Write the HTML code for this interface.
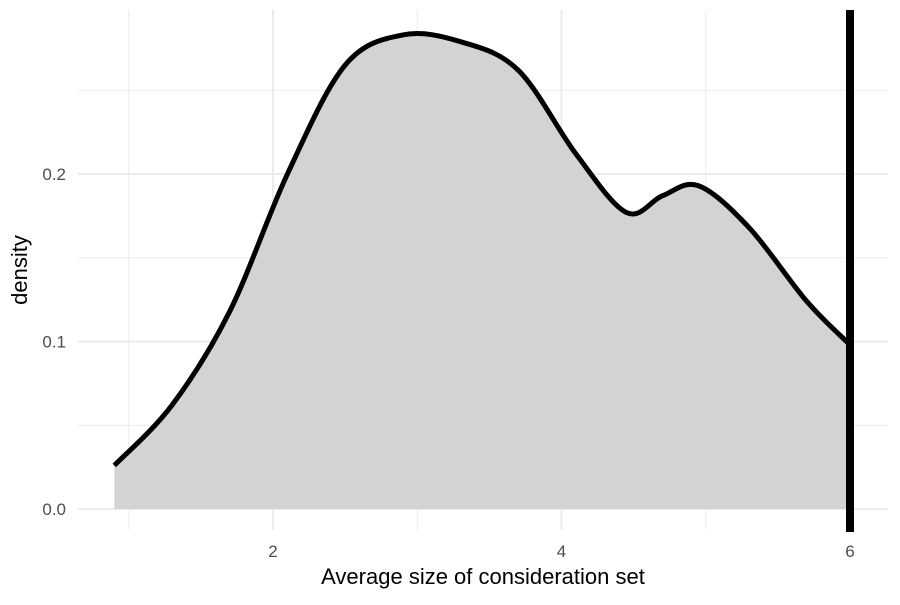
<!DOCTYPE html>
<html><head><meta charset="utf-8"><style>
body{margin:0;background:#fff}
svg{font-family:"Liberation Sans",Arial,sans-serif}
</style></head><body>
<svg id="chart" width="900" height="600" viewBox="0 0 900 600" xmlns="http://www.w3.org/2000/svg">
<rect width="900" height="600" fill="#fff"/>
<g id="grid"></g>
<g id="marks"></g>
<g id="axes"></g>
<text x="483" y="584" text-anchor="middle" font-size="22" fill="#000">Average size of consideration set</text>
<text transform="translate(27,270) rotate(-90)" text-anchor="middle" font-size="22" fill="#000">density</text>
</svg>
<script>
const xs = [0.9,1.3,1.7,2.1,2.5,2.9,3.3,3.7,4.1,4.45,4.7,4.95,5.3,5.7,6.0];
const ys = [0.026,0.062,0.118,0.200,0.265,0.283,0.279,0.262,0.212,0.177,0.187,0.193,0.168,0.124,0.098];
const xTicks = [2,4,6];
const xMinor = [1,3,5];
const yTicks = [0,0.1,0.2];
const yMinor = [0.05,0.15,0.25];
const vline = [6];
const X = v => 273 + (v-2)*144.25;
const Y = v => 509 - v*1675;
const L=78,R=888,T=10,B=530;
const ns="http://www.w3.org/2000/svg";
function mk(tag,attrs,parent){const e=document.createElementNS(ns,tag);for(const k in attrs)e.setAttribute(k,attrs[k]);parent.appendChild(e);return e;}
const grid=document.getElementById('grid'),marks=document.getElementById('marks'),axes=document.getElementById('axes');
yMinor.forEach(v=>{const e=mk('line',{x1:L,x2:R,y1:Y(v),y2:Y(v),stroke:'#ebebeb','stroke-width':1},grid);

});
xMinor.forEach(v=>{const e=mk('line',{x1:X(v),x2:X(v),y1:T,y2:B,stroke:'#ebebeb','stroke-width':1},grid);

});
yTicks.forEach(v=>{const e=mk('line',{x1:L,x2:R,y1:Y(v),y2:Y(v),stroke:'#ebebeb','stroke-width':2},grid);


const t=mk('text',{x:66,y:Y(v)+6,'text-anchor':'end','font-size':17,fill:'#4d4d4d'},axes);t.textContent=v.toFixed(1);

});
xTicks.forEach(v=>{const e=mk('line',{x1:X(v),x2:X(v),y1:T,y2:B,stroke:'#ebebeb','stroke-width':2},grid);


const t=mk('text',{x:X(v),y:557,'text-anchor':'middle','font-size':17,fill:'#4d4d4d'},axes);t.textContent=v;

});
const pts=xs.map((x,i)=>[X(x),Y(ys[i])]);
let d='M'+pts[0][0]+','+pts[0][1];
for(let i=0;i<pts.length-1;i++){const p0=pts[Math.max(0,i-1)],p1=pts[i],p2=pts[i+1],p3=pts[Math.min(pts.length-1,i+2)];
d+=` C${p1[0]+(p2[0]-p0[0])/6},${p1[1]+(p2[1]-p0[1])/6} ${p2[0]-(p3[0]-p1[0])/6},${p2[1]-(p3[1]-p1[1])/6} ${p2[0]},${p2[1]}`;}
const area=mk('path',{d:d+` L${pts[pts.length-1][0]},${Y(0)} L${pts[0][0]},${Y(0)} Z`,fill:'#d3d3d3'},marks);


const line=mk('path',{d:d,fill:'none',stroke:'#000','stroke-width':5},marks);


vline.forEach(v=>{const e=mk('line',{x1:X(v),x2:X(v),y1:T,y2:B+2,stroke:'#000','stroke-width':8},marks);

});
</script>
</body></html>
